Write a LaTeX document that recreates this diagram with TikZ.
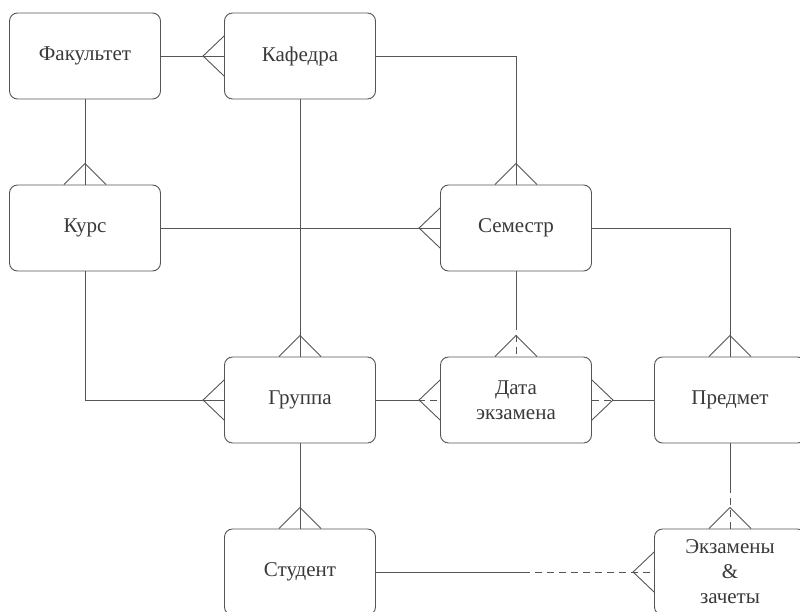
\documentclass[tikz,border=0pt]{standalone}
\usepackage{fontspec}
\setmainfont{Liberation Serif}
\usepackage{tikz}
\usetikzlibrary{positioning,calc}
\definecolor{erink}{HTML}{555555}
\definecolor{ertext}{HTML}{3A3A3A}
\tikzset{
  entity/.style={draw=erink, rounded corners=8pt, fill=white, line width=0.9pt,
    minimum width=151pt, minimum height=86pt, align=center, text=ertext,
    font=\fontsize{21}{25}\selectfont},
  relline/.style={draw=erink, line width=0.9pt},
  optline/.style={relline, dash pattern=on 7pt off 5pt}
}
% crow's feet on the many side
\newcommand{\footN}[1]{\draw[relline] ([xshift=-21pt]#1.north) -- ([yshift=21pt]#1.north) -- ([xshift=21pt]#1.north);}
\newcommand{\footW}[1]{\draw[relline] ([yshift=20pt]#1.west) -- ([xshift=-21pt]#1.west) -- ([yshift=-20pt]#1.west);}
\newcommand{\footE}[1]{\draw[relline] ([yshift=20pt]#1.east) -- ([xshift=21pt]#1.east) -- ([yshift=-20pt]#1.east);}

\begin{document}
\begin{tikzpicture}[x=1pt, y=-1pt]
  \useasboundingbox (0,0) rectangle (800,611);
  \clip (0,0) rectangle (800,611);

  \node[entity] (fac)  at (85,56)   {Факультет};
  \node[entity] (kaf)  at (300,56)  {Кафедра};
  \node[entity] (kurs) at (85,228)  {Курс};
  \node[entity] (sem)  at (516,228) {Семестр};
  \node[entity] (grp)  at (300,400) {Группа};
  \node[entity] (dat)  at (516,400) {Дата\\экзамена};
  \node[entity] (pred) at (730,400) {Предмет};
  \node[entity] (stud) at (300,572) {Студент};
  \node[entity] (exam) at (730,572) {Экзамены\\\&\\зачеты};

  % mandatory links
  \draw[relline] (fac) -- (kaf);
  \draw[relline] (fac) -- (kurs);
  \draw[relline] (kaf.east) -| (sem.north);
  \draw[relline] (kaf) -- (grp);
  \draw[relline] (kurs) -- (sem);
  \draw[relline] (kurs.south) |- (grp.west);
  \draw[relline] (sem.east) -| (pred.north);
  \draw[relline] (grp) -- (stud);

  % half solid, half dashed
  \coordinate (semdat) at ($(sem.south)!0.6!(dat.north)$);
  \draw[relline] (sem.south) -- (semdat);
  \draw[optline] (semdat) -- (dat.north);
  \coordinate (grpdat) at ($(grp.east)!0.66!(dat.west)$);
  \draw[relline] (grp.east) -- (grpdat);
  \draw[optline] (grpdat) -- (dat.west);
  \coordinate (datpred) at ($(dat.east)!0.33!(pred.west)$);
  \draw[optline] (dat.east) -- (datpred);
  \draw[relline] (datpred) -- (pred.west);
  \coordinate (predexam) at ($(pred.south)!0.5!(exam.north)$);
  \draw[relline] (pred.south) -- (predexam);
  \draw[optline] (predexam) -- (exam.north);
  \coordinate (studexam) at ($(stud.east)!0.53!(exam.west)$);
  \draw[relline] (stud.east) -- (studexam);
  \draw[optline] (studexam) -- (exam.west);

  \footW{kaf}
  \footN{kurs}
  \footN{sem}
  \footW{sem}
  \footN{grp}
  \footW{grp}
  \footN{dat}
  \footW{dat}
  \footE{dat}
  \footN{pred}
  \footN{stud}
  \footN{exam}
  \footW{exam}
\end{tikzpicture}
\end{document}
